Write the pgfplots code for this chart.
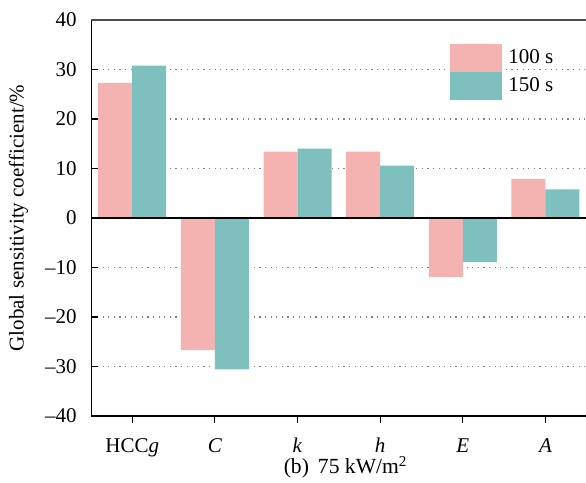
\documentclass[border=0pt]{standalone}
\usepackage{fontspec}
\setmainfont{Liberation Serif}
\usepackage{pgfplots}
\pgfplotsset{compat=1.18}
\definecolor{pinkbar}{HTML}{F4B3B1}
\definecolor{tealbar}{HTML}{7EC0BD}
\newcommand{\tf}{\fontsize{10.5}{12.6}\selectfont\rmfamily}
\begin{document}
\begin{tikzpicture}[font=\tf]
\begin{axis}[
 name=ax,
 scale only axis,
 width=247.25pt, height=198pt,
 xmin=-0.493, xmax=5.49,
 ymin=-40, ymax=40,
 ytick={-40,-30,...,40},
 yticklabels={{--}40,{--}30,{--}20,{--}10,0,10,20,30,40},
 xtick={0,...,5},
 xticklabels={HCC\textit{g},\textit{C},\textit{k},\textit{h},\textit{E},\textit{A}},
 axis x line*=bottom, axis y line*=left,
 axis line style={black, line width=0.75pt, -},
 tick align=inside,
 major tick length=3.5pt,
 tick style={black, line width=0.6pt},
 ymajorgrids,
 major grid style={gray, line width=0.6pt, dash pattern=on 0.6pt off 2.2pt},
 ybar=0pt, bar width=17pt,
 tick label style={font=\tf},
 label style={font=\tf},
 yticklabel style={anchor=east, inner sep=0pt, xshift=-7.25pt},
 xticklabel style={anchor=base, inner sep=0pt, yshift=-14.6pt},
 every axis y label/.style={at={(rel axis cs:0,0.5)}, xshift=-36.5pt, rotate=90, anchor=center, font=\tf},
 every axis x label/.style={at={(rel axis cs:0.514,0)}, anchor=base, inner sep=0pt, yshift=-29pt, font=\fontsize{10.8}{13}\selectfont},
 ylabel={Global sensitivity coefficient/\%},
 xlabel={(b)\, 75 kW/m\textsuperscript{2}},
 legend image code/.code={\fill[#1] (0pt,-7pt) rectangle (26pt,7pt); \path (29pt,0pt);},
 legend style={at={(rel axis cs:0.725,0.9394)}, anchor=north west, draw=none, fill=none,
   inner sep=0pt, row sep=0pt, column sep=0pt, nodes={inner sep=0pt, anchor=west}, font=\tf},
 legend cell align=left,
 clip=false,
]
\addplot[fill=pinkbar, draw=none] coordinates {(0,27.3) (1,-26.7) (2,13.4) (3,13.4) (4,-11.9) (5,7.9)};
\addplot[fill=tealbar, draw=none] coordinates {(0,30.8) (1,-30.6) (2,14.0) (3,10.6) (4,-8.9) (5,5.8)};
\legend{100 s, 150 s}
\draw[black, line width=0.8pt] (rel axis cs:0,0.5) -- (rel axis cs:1,0.5);
\draw[black!70, line width=0.75pt] (rel axis cs:0,1) -- (rel axis cs:1,1);
\end{axis}
\pgfresetboundingbox
\path (ax.south west) ++(-45.75pt,-33.5pt) rectangle ++(293pt,241.5pt);
\end{tikzpicture}
\end{document}
